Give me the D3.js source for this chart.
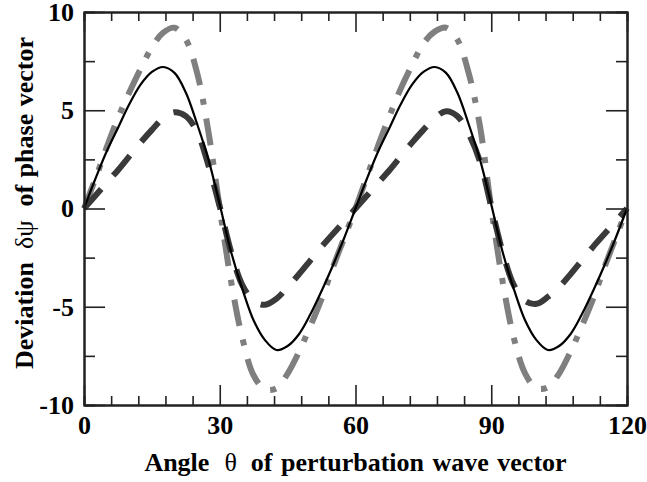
<!DOCTYPE html>
<html>
<head>
<meta charset="utf-8">
<script src="https://cdn.jsdelivr.net/npm/d3@7"></script>
<style>
  html, body { margin: 0; padding: 0; background: #fff; }
  svg { display: block; }
  text { font-family: "Liberation Serif", "Times New Roman", serif; font-weight: bold; fill: #000; }
</style>
</head>
<body>
<svg id="chart" width="647" height="482"></svg>
<script>
// ---- data ----
const theta = [0,2.5,5,7.5,10,12.5,15,17.5,20,22.5,25,27.5,30,32.5,35,37.5,40,42.5,45,47.5,50,52.5,55,57.5,
               60,62.5,65,67.5,70,72.5,75,77.5,80,82.5,85,87.5,90,92.5,95,97.5,100,102.5,105,107.5,110,112.5,115,117.5,120];

const solidValues = [0,1.5,2.9,4.1,5.3,6.3,6.95,7.2,6.9,5.9,4.3,2.5,0.2,-2.2,-4.1,-5.7,-6.7,-7.2,-7.0,-6.4,-5.4,-4.2,-2.9,-1.5,
                     0,1.5,2.9,4.1,5.3,6.3,6.95,7.2,6.9,5.9,4.3,2.5,0.2,-2.2,-4.1,-5.7,-6.7,-7.2,-7.0,-6.4,-5.4,-4.2,-2.9,-1.5,0];

const dashedValues = [0,0.65,1.3,1.95,2.65,3.35,4.0,4.6,4.9,4.7,3.9,2.2,0.1,-2.2,-3.9,-4.7,-4.9,-4.6,-4.0,-3.35,-2.65,-1.95,-1.3,-0.65,
                      0,0.65,1.3,1.95,2.65,3.35,4.0,4.6,4.95,4.7,3.8,2.4,0.1,-2.2,-3.9,-4.7,-4.85,-4.5,-4.0,-3.35,-2.65,-1.95,-1.3,-0.65,0];

const dashDotValues = [0,1.5,3.1,4.6,5.9,7.1,8.2,8.95,9.2,8.6,6.9,3.9,0,-3.7,-6.6,-8.5,-9.2,-9.15,-8.4,-7.3,-6.0,-4.6,-3.0,-1.5,
                       0,1.6,3.2,4.7,6.1,7.3,8.4,9.0,9.2,8.6,6.9,4.2,0,-3.7,-6.6,-8.4,-9.15,-9.1,-8.4,-7.3,-6.0,-4.6,-3.0,-1.5,0];

const xMajorTicks = [0,30,60,90,120];
const xMinorTicks = [6,12,18,24,36,42,48,54,66,72,78,84,96,102,108,114];
const yMajorTicks = [-10,-5,0,5,10];
const yMinorTicks = [-7.5,-2.5,2.5,7.5];

const xTitle = "Angle";
const xTitleSym = "θ";
const xTitleRest = "of perturbation wave vector";
const yTitle = "Deviation";
const yTitleSym = "δψ";
const yTitleRest = "of phase vector";

// ---- layout ----
const svg = d3.select("#chart");
const mLeft = 84, mRight = 627, mTop = 12, mBottom = 405;

const x = d3.scaleLinear().domain([0,120]).range([mLeft,mRight]);
const y = d3.scaleLinear().domain([-10,10]).range([mBottom,mTop]);

const plot = svg.append("g");

const line = d3.line().x(d => x(d[0])).y(d => y(d[1])).curve(d3.curveCatmullRom.alpha(0.5));
function series(vals){ return theta.map((t,i)=>[t, vals[i]]); }

plot.append("path").datum(series(dashDotValues))
  .attr("d", line).attr("fill","none")
  .attr("stroke","#7f7f7f").attr("stroke-width",6)
  .attr("stroke-dasharray","27,14,6,14");

plot.append("path").datum(series(dashedValues))
  .attr("d", line).attr("fill","none")
  .attr("stroke","#3a3a3a").attr("stroke-width",6)
  .attr("stroke-dasharray","26,18");

plot.append("path").datum(series(solidValues))
  .attr("d", line).attr("fill","none")
  .attr("stroke","#000").attr("stroke-width",2.2);

// axes
const axisColor = "#222";
const fmt = d => String(d);
function styleAxis(g, showLabels){
  g.select(".domain").attr("stroke", axisColor).attr("stroke-width", 2);
  g.selectAll(".tick line").attr("stroke", axisColor).attr("stroke-width", 1.6);
  g.selectAll(".tick text").style("font-size","26px").style("font-family","'Liberation Serif', serif").style("font-weight","bold").attr("fill","#000");
  if(!showLabels) g.selectAll(".tick text").remove();
}

svg.append("g").attr("transform",`translate(0,${mBottom})`)
  .call(d3.axisBottom(x).tickValues(xMinorTicks).tickSize(-9).tickFormat(""))
  .call(g=>styleAxis(g,false));
svg.append("g").attr("transform",`translate(0,${mBottom})`)
  .call(d3.axisBottom(x).tickValues(xMajorTicks).tickSize(-20).tickPadding(11).tickSizeOuter(0).tickFormat(fmt))
  .call(g=>styleAxis(g,true));
svg.append("g").attr("transform",`translate(0,${mTop})`)
  .call(d3.axisTop(x).tickValues(xMinorTicks).tickSize(-9).tickFormat(""))
  .call(g=>styleAxis(g,false));
svg.append("g").attr("transform",`translate(0,${mTop})`)
  .call(d3.axisTop(x).tickValues(xMajorTicks).tickSize(-20).tickSizeOuter(0).tickFormat(""))
  .call(g=>styleAxis(g,false));
svg.append("g").attr("transform",`translate(${mLeft},0)`)
  .call(d3.axisLeft(y).tickValues(yMinorTicks).tickSize(-11).tickFormat(""))
  .call(g=>styleAxis(g,false));
svg.append("g").attr("transform",`translate(${mLeft},0)`)
  .call(d3.axisLeft(y).tickValues(yMajorTicks).tickSize(-21).tickPadding(10).tickSizeOuter(0).tickFormat(fmt))
  .call(g=>styleAxis(g,true));
svg.append("g").attr("transform",`translate(${mRight},0)`)
  .call(d3.axisRight(y).tickValues(yMinorTicks).tickSize(-11).tickFormat(""))
  .call(g=>styleAxis(g,false));
svg.append("g").attr("transform",`translate(${mRight},0)`)
  .call(d3.axisRight(y).tickValues(yMajorTicks).tickSize(-21).tickSizeOuter(0).tickFormat(""))
  .call(g=>styleAxis(g,false));

// titles
const xt = svg.append("text").attr("x",(mLeft+mRight)/2).attr("y",471)
  .attr("text-anchor","middle").style("font-size","26px").style("word-spacing","2px");
xt.append("tspan").text(xTitle);
xt.append("tspan").attr("dx",15).style("font-weight","normal").text(xTitleSym);
xt.append("tspan").attr("dx",14).text(xTitleRest);

const yt = svg.append("text").attr("transform",`translate(33,203) rotate(-90)`)
  .attr("text-anchor","middle").style("font-size","26px").style("word-spacing","1px");
yt.append("tspan").text(yTitle);
yt.append("tspan").attr("dx",13).style("font-weight","normal").text(yTitleSym);
yt.append("tspan").attr("dx",14).text(yTitleRest);
</script>
</body>
</html>
